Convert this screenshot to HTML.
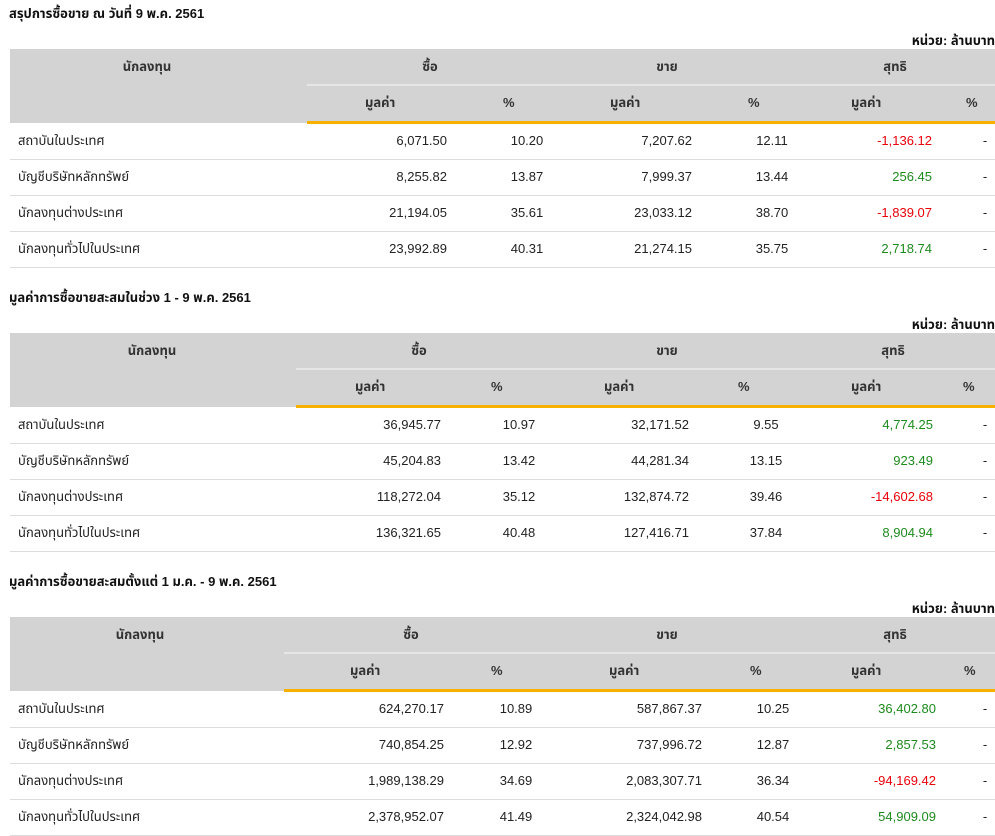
<!DOCTYPE html>
<html><head><meta charset="utf-8">
<style>
html,body{margin:0;padding:0;background:#fff;}
body{width:995px;height:836px;position:relative;overflow:hidden;font-family:"Liberation Sans","Noto Sans Thai","Noto Sans CJK SC",sans-serif;color:#222;font-size:13px;}
.abs{position:absolute;white-space:nowrap;line-height:16px;}
.title{font-weight:bold;font-size:13px;color:#111;}
.unit{font-weight:bold;font-size:13px;color:#111;}
.hdr{position:absolute;background:#d3d3d3;}
.hl{font-weight:bold;color:#333;}
.sep{position:absolute;height:1px;background:#dcdcdc;}
.orange{position:absolute;height:3px;background:#f5b000;}
.lightsep{position:absolute;height:2px;background:#e6e6e6;}
.g{color:#1e8a1e}.r{color:#e8000b}
</style></head>
<body>
<div id="root"></div>
<script>
const titles=["สรุปการซื้อขาย ณ วันที่ 9 พ.ค. 2561","มูลค่าการซื้อขายสะสมในช่วง 1 - 9 พ.ค. 2561","มูลค่าการซื้อขายสะสมตั้งแต่ 1 ม.ค. - 9 พ.ค. 2561"];
const investors=["สถาบันในประเทศ","บัญชีบริษัทหลักทรัพย์","นักลงทุนต่างประเทศ","นักลงทุนทั่วไปในประเทศ"];
const buyVal=[["6,071.50","8,255.82","21,194.05","23,992.89"],["36,945.77","45,204.83","118,272.04","136,321.65"],["624,270.17","740,854.25","1,989,138.29","2,378,952.07"]];
const buyPct=[["10.20","13.87","35.61","40.31"],["10.97","13.42","35.12","40.48"],["10.89","12.92","34.69","41.49"]];
const sellVal=[["7,207.62","7,999.37","23,033.12","21,274.15"],["32,171.52","44,281.34","132,874.72","127,416.71"],["587,867.37","737,996.72","2,083,307.71","2,324,042.98"]];
const sellPct=[["12.11","13.44","38.70","35.75"],["9.55","13.15","39.46","37.84"],["10.25","12.87","36.34","40.54"]];
const netVal=[["-1,136.12","256.45","-1,839.07","2,718.74"],["4,774.25","923.49","-14,602.68","8,904.94"],["36,402.80","2,857.53","-94,169.42","54,909.09"]];
// layout per table
const L=[
 {split:307,inv:147,gb:430,gs:667,gn:895,sh:[365,503,610,748,851,966],bv:447,bp:527,sv:692,sp:772,nv:932},
 {split:296,inv:152,gb:419,gs:667,gn:893,sh:[355,491,604,738,851,963],bv:441,bp:519,sv:689,sp:766,nv:933},
 {split:284,inv:140,gb:411,gs:667,gn:895,sh:[350,491,609,750,851,964],bv:444,bp:516,sv:702,sp:773,nv:936}
];
const root=document.getElementById('root');
function mk(cls,x,y,txt,align,name){
 const d=document.createElement('div');
 d.className='abs '+cls;
 
 
 if(align==='r'){d.style.right=(995-x)+'px';}
 else if(align==='c'){d.style.left=(x-100)+'px';d.style.width='200px';d.style.textAlign='center';}
 else d.style.left=x+'px';
 d.style.top=y+'px';d.textContent=txt;root.appendChild(d);return d;
}
function box(cls,x,y,w,h,name){
 const d=document.createElement('div');d.className=cls;
 
 
 d.style.left=x+'px';d.style.top=y+'px';d.style.width=w+'px';if(h)d.style.height=h+'px';
 root.appendChild(d);return d;
}
for(let t=0;t<3;t++){
 const o=t*284, l=L[t];
 mk('title',9,6+o,titles[t],'l','section-title');
 mk('unit',995,33+o,'หน่วย: ล้านบาท','r','unit-label');
 box('hdr',10,49+o,985,74,'table-header');
 box('lightsep',l.split,84+o,995-l.split,2,'header-divider');
 box('orange',l.split,121+o,995-l.split,3,'header-accent-line');
 mk('hl',l.inv,59+o,'นักลงทุน','c','investor-header');
 mk('hl',l.gb,59+o,'ซื้อ','c','buy-header');
 mk('hl',l.gs,59+o,'ขาย','c','sell-header');
 mk('hl',l.gn,59+o,'สุทธิ','c','net-header');
 const subs=['มูลค่า','%','มูลค่า','%','มูลค่า','%'];
 for(let k=0;k<6;k++){mk('hl',l.sh[k],95+o,subs[k],'l','subheader-'+(k%2?'percent':'value'));}
 for(let i=0;i<4;i++){
  const y=124+o+i*36, ty=y+9;
  mk('',18,ty,investors[i],'l','investor-name');
  mk('',l.bv,ty,buyVal[t][i],'r','buy-value');
  mk('',l.bp,ty,buyPct[t][i],'c','buy-percent');
  mk('',l.sv,ty,sellVal[t][i],'r','sell-value');
  mk('',l.sp,ty,sellPct[t][i],'c','sell-percent');
  const nv=netVal[t][i];
  mk(nv.charAt(0)==='-'?'r':'g',l.nv,ty,nv,'r','net-value');
  mk('',985,ty,'-','c','net-percent');
  box('sep',10,y+35,985,1,'row-divider');
 }
}
</script>
</body></html>
